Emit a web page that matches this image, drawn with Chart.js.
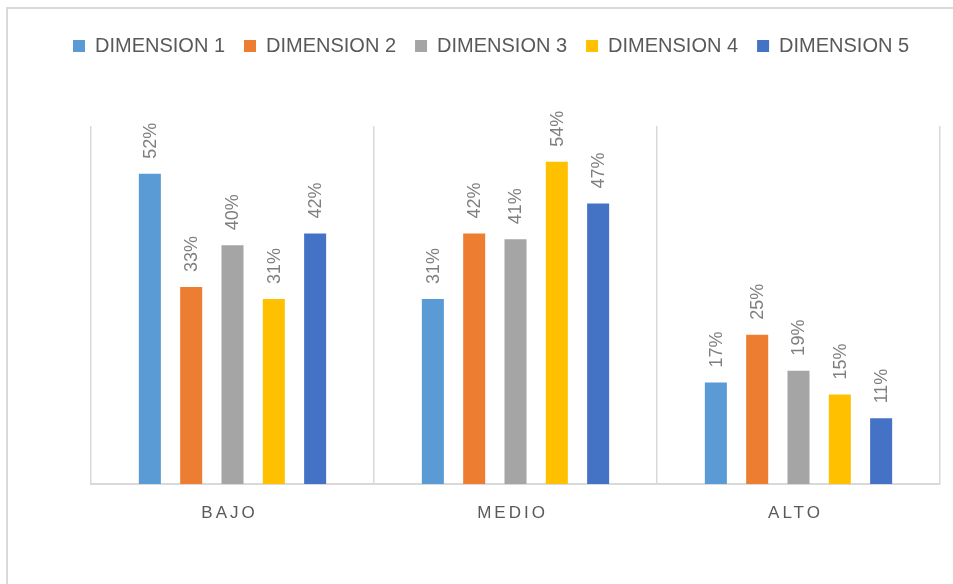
<!DOCTYPE html>
<html>
<head>
<meta charset="utf-8">
<script src="https://cdn.jsdelivr.net/npm/chart.js@4/dist/chart.umd.min.js"></script>
<style>
  html, body { margin: 0; padding: 0; background: #fff; }
  #wrap { width: 953px; height: 584px; }
</style>
</head>
<body>
<div id="wrap"><canvas id="c" width="953" height="584"></canvas></div>
<script>
const categories = ['BAJO', 'MEDIO', 'ALTO'];
const seriesNames = ['DIMENSION 1', 'DIMENSION 2', 'DIMENSION 3', 'DIMENSION 4', 'DIMENSION 5'];
const dimension1 = [52, 31, 17];
const dimension2 = [33, 42, 25];
const dimension3 = [40, 41, 19];
const dimension4 = [31, 54, 15];
const dimension5 = [42, 47, 11];
const seriesColors = ['#5B9BD5', '#ED7D31', '#A5A5A5', '#FFC000', '#4472C4'];
const yMax = 60;

const allSeries = [dimension1, dimension2, dimension3, dimension4, dimension5];

const FONT = "'Liberation Sans', Arial, sans-serif";

const framePlugin = {
  id: 'frame',
  beforeDraw(chart) {
    const ctx = chart.ctx;
    ctx.save();
    ctx.fillStyle = '#ffffff';
    ctx.fillRect(0, 0, chart.width, chart.height);
    ctx.strokeStyle = '#d9d9d9';
    ctx.lineWidth = 2;
    ctx.strokeRect(7, 8, chart.width + 20, chart.height + 20);
    ctx.restore();
  }
};

const legendFitPlugin = {
  id: 'legendFit',
  beforeLayout(chart) {
    const lg = chart.legend;
    if (lg && !lg._patched) {
      const orig = lg.fit;
      lg.fit = function () {
        this.maxWidth = 1200;
        orig.call(this);
        this.height = 126 - 17;
      };
      lg._patched = true;
    }
  },
  afterLayout(chart) {
    const lg = chart.legend;
    if (lg) {
      const pad = lg.options.labels.padding;
      lg.left = 73 - pad;
      lg.right = 1200;
    }
  }
};

const labelsPlugin = {
  id: 'valueLabels',
  afterDatasetsDraw(chart) {
    const ctx = chart.ctx;
    ctx.save();
    ctx.font = '18px ' + FONT;
    ctx.fillStyle = '#7f7f7f';
    ctx.textAlign = 'left';
    ctx.textBaseline = 'middle';
    chart.data.datasets.forEach((ds, di) => {
      const meta = chart.getDatasetMeta(di);
      meta.data.forEach((el, i) => {
        ctx.save();
        ctx.translate(el.x + 1, el.y - 15);
        ctx.rotate(-Math.PI / 2);
        ctx.fillText(ds.data[i] + '%', 0, 0);
        ctx.restore();
      });
    });
    ctx.restore();
  },
  afterDraw(chart) {
    const ctx = chart.ctx;
    const xs = chart.scales.x;
    ctx.save();
    ctx.font = '17px ' + FONT;
    ctx.fillStyle = '#595959';
    ctx.textBaseline = 'alphabetic';
    ctx.textAlign = 'center';
    try { ctx.letterSpacing = '3px'; } catch (e) {}
    categories.forEach((c, i) => {
      const x = xs.getPixelForValue(i);
      ctx.fillText(c, x - 3, 518);
    });
    ctx.restore();
  }
};

new Chart(document.getElementById('c'), {
  type: 'bar',
  data: {
    labels: categories,
    datasets: seriesNames.map((n, i) => ({
      label: n,
      data: allSeries[i],
      backgroundColor: seriesColors[i],
      borderWidth: 0,
      categoryPercentage: 0.73,
      barPercentage: 0.533
    }))
  },
  options: {
    responsive: false,
    animation: false,
    devicePixelRatio: 1,
    layout: { padding: { left: 91, right: 13, top: 17, bottom: 100 } },
    plugins: {
      legend: {
        position: 'top',
        align: 'start',
        labels: {
          boxWidth: 12,
          boxHeight: 12,
          padding: 19,
          color: '#595959',
          font: { family: FONT, size: 20 }
        }
      },
      tooltip: { enabled: false }
    },
    scales: {
      x: {
        offset: true,
        grid: { display: true, offset: true, color: '#d9d9d9', lineWidth: 1.5, drawTicks: false },
        border: { display: true, color: '#d9d9d9', width: 2 },
        ticks: { display: false }
      },
      y: {
        display: false,
        min: 0,
        max: yMax
      }
    }
  },
  plugins: [framePlugin, legendFitPlugin, labelsPlugin]
});
</script>
</body>
</html>
